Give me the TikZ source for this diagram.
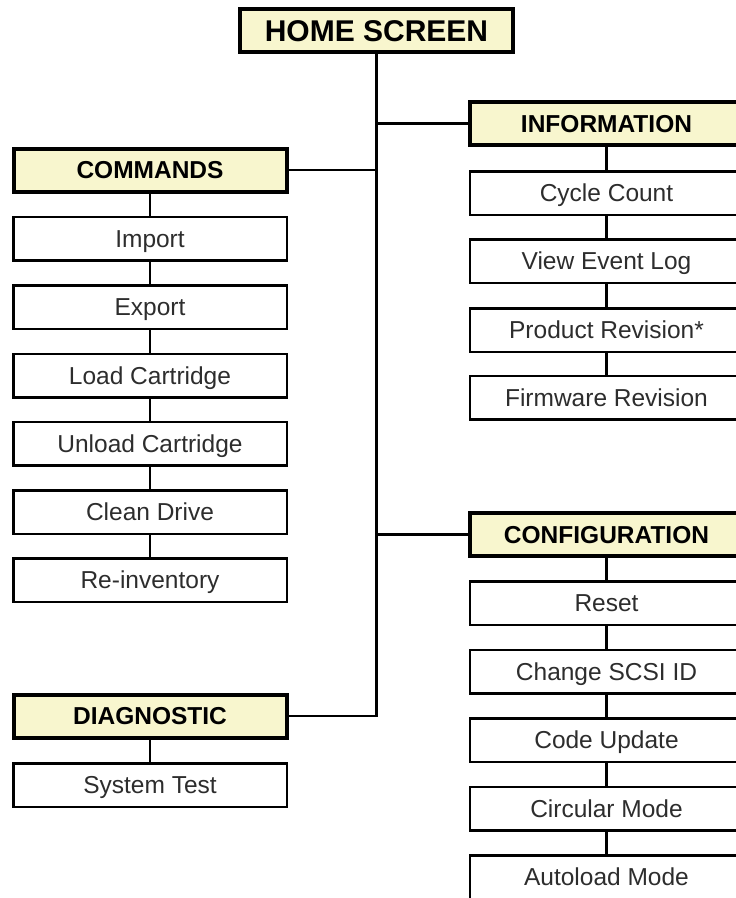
\documentclass[tikz,border=0pt]{standalone}
\usepackage{fontspec}
\setmainfont{Liberation Sans}
\definecolor{headfill}{RGB}{248,246,206}
\definecolor{itemtext}{RGB}{45,45,45}
\begin{document}
\begin{tikzpicture}[x=1pt,y=-1pt,
    headbox/.style={draw,line width=4pt,fill=headfill,minimum width=273,minimum height=43,inner sep=0pt,text height=17.5pt,text depth=0pt,font=\fontsize{24.5}{26}\selectfont\bfseries},
    itembox/.style={draw,line width=2.5pt,fill=white,minimum width=273.5,minimum height=43.5,inner sep=0pt,text height=17.5pt,text depth=0pt,text=itemtext,font=\fontsize{24.5}{26}\selectfont},
    link/.style={line width=2.5pt}]
    \useasboundingbox (0,0) rectangle (736,898);
    \clip (0,0) rectangle (736,898);
    \node[headbox,text height=21.5pt,font=\fontsize{30}{32}\selectfont\bfseries] (home) at (376.5,30.5) {HOME SCREEN};
    % left column
    \node[headbox] (cmd) at (150,170) {COMMANDS};
    \node[itembox] (imp) at (150,238.5) {Import};
    \node[itembox] (exp) at (150,307) {Export};
    \node[itembox] (load) at (150,375.5) {Load Cartridge};
    \node[itembox] (unload) at (150,443.5) {Unload Cartridge};
    \node[itembox] (clean) at (150,512) {Clean Drive};
    \node[itembox] (reinv) at (150,580) {Re-inventory};
    \node[headbox] (diag) at (150,716) {DIAGNOSTIC};
    \node[itembox] (systest) at (150,785) {System Test};
    % right column
    \node[headbox] (info) at (606.5,123.5) {INFORMATION};
    \node[itembox] (cycle) at (606.5,193) {Cycle Count};
    \node[itembox] (evlog) at (606.5,261) {View Event Log};
    \node[itembox] (prodrev) at (606.5,330) {Product Revision*};
    \node[itembox] (fwrev) at (606.5,397.5) {Firmware Revision};
    \node[headbox] (cfg) at (606.5,534.5) {CONFIGURATION};
    \node[itembox] (reset) at (606.5,603) {Reset};
    \node[itembox] (scsi) at (606.5,671.5) {Change SCSI ID};
    \node[itembox] (code) at (606.5,740) {Code Update};
    \node[itembox] (circ) at (606.5,808.5) {Circular Mode};
    \node[itembox] (autoload) at (606.5,877) {Autoload Mode};
    % trunk and branches
    \draw[link] (home.south) |- (diag.east);
    \draw[link] (cmd.east) -- (cmd.east -| home.south);
    \draw[link] (info.west) -- (info.west -| home.south);
    \draw[link] (cfg.west) -- (cfg.west -| home.south);
    % column links
    \draw[link] (cmd) -- (imp);
    \draw[link] (imp) -- (exp);
    \draw[link] (exp) -- (load);
    \draw[link] (load) -- (unload);
    \draw[link] (unload) -- (clean);
    \draw[link] (clean) -- (reinv);
    \draw[link] (diag) -- (systest);
    \draw[link] (info) -- (cycle);
    \draw[link] (cycle) -- (evlog);
    \draw[link] (evlog) -- (prodrev);
    \draw[link] (prodrev) -- (fwrev);
    \draw[link] (cfg) -- (reset);
    \draw[link] (reset) -- (scsi);
    \draw[link] (scsi) -- (code);
    \draw[link] (code) -- (circ);
    \draw[link] (circ) -- (autoload);
\end{tikzpicture}
\end{document}
